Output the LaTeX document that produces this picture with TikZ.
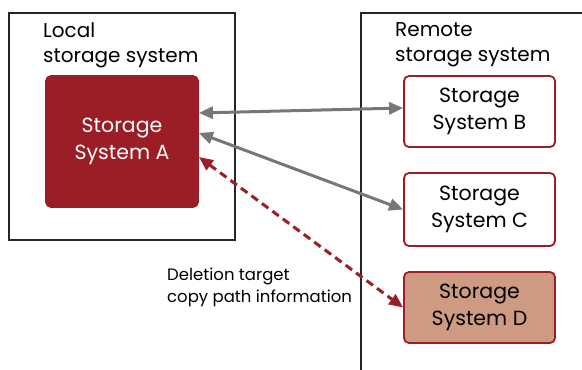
\documentclass[tikz,border=0pt]{standalone}
\usepackage{fontspec}
\setmainfont{Poppins}
\usetikzlibrary{arrows.meta, positioning}
\definecolor{darkred}{HTML}{9B1D25}
\definecolor{salmon}{HTML}{CE9A82}
\definecolor{arrgray}{HTML}{777777}
\begin{document}
\begin{tikzpicture}[
  x=1pt, y=-1pt,
  frame/.style={draw=black!85, line width=1.5pt},
  title/.style={anchor=north west, align=left, inner sep=0pt, font=\fontsize{20}{25}\selectfont},
  sys/.style={rectangle, rounded corners=5pt, line width=1.8pt, align=center, font=\fontsize{20.5}{27}\selectfont},
  arr/.style={{Triangle[length=14pt,width=12pt]}-{Triangle[length=14pt,width=12pt]}, line width=3pt, arrgray},
  delarr/.style={{Triangle[length=14pt,width=12pt]}-{Triangle[length=14pt,width=12pt]}, line width=3pt, darkred, dash pattern=on 8pt off 5pt}
]
\useasboundingbox (0,0) rectangle (582,370);
\clip (0,0) rectangle (582,370);
% outer frames
\draw[frame] (9,13) rectangle (235,240);
\draw[frame] (361,13) rectangle (600,400);
\node[title] (lt) at (43,22) {Local\\storage system};
\node[title] (rt) at (395,22) {Remote\\storage system};
% storage systems
\node[sys, fill=darkred, draw=darkred, text=white, minimum width=152pt, minimum height=131pt] (a) at (122,141.5) {Storage\\System A};
\node[sys, draw=darkred, fill=white, minimum width=151pt, minimum height=71pt] (b) at (479.5,111.5) {Storage\\System B};
\node[sys, draw=darkred, fill=white, minimum width=151pt, minimum height=73pt] (c) at (479.5,209.5) {Storage\\System C};
\node[sys, draw=darkred, fill=salmon, minimum width=151pt, minimum height=71pt] (d) at (479.5,307.5) {Storage\\System D};
\node[anchor=north west, align=left, inner sep=0pt, font=\fontsize{16.5}{22}\selectfont] (lbl) at (167,268) {Deletion target\\copy path information};
% connections
\draw[arr] ([yshift=28.5pt]a.east) -- ([yshift=3.5pt]b.west);
\draw[arr] ([yshift=8.5pt]a.east) -- (c.west);
\draw[delarr] ([yshift=-15.5pt]a.east) -- (d.west);
\end{tikzpicture}
\end{document}
